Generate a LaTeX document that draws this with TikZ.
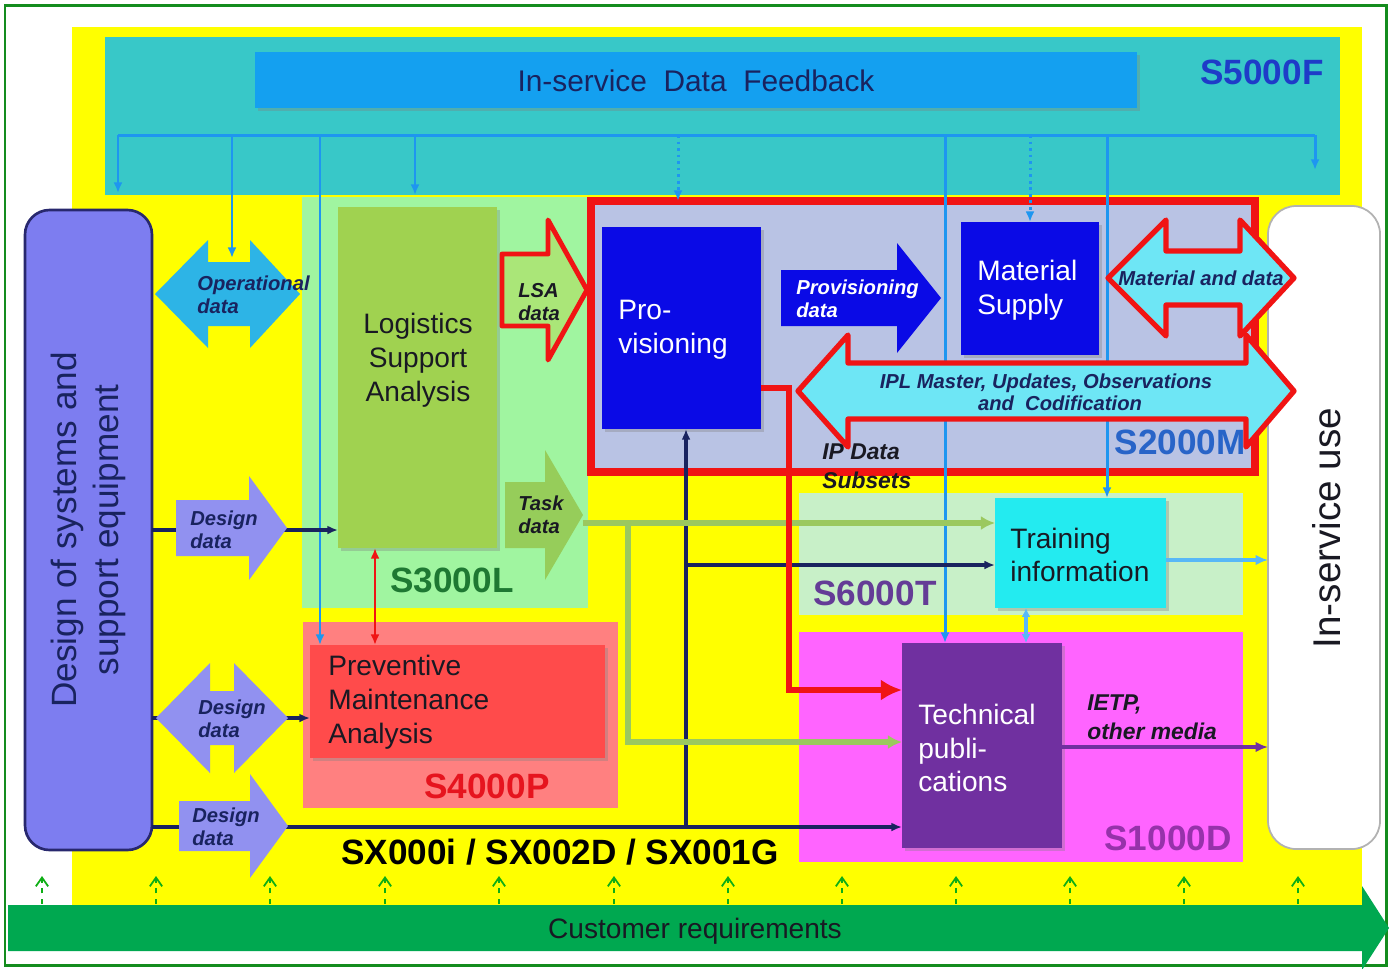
\documentclass[tikz,border=0pt]{standalone}
\usepackage{fontspec}
\setmainfont{Liberation Sans}
\usetikzlibrary{arrows.meta,fit,shadows}
\definecolor{cFrame}{RGB}{20,140,30}
\definecolor{cYellow}{RGB}{255,255,0}
\definecolor{cTeal}{RGB}{56,200,200}
\definecolor{cFeed}{RGB}{20,160,240}
\definecolor{cNavy}{RGB}{25,35,95}
\definecolor{cS5}{RGB}{30,60,200}
\definecolor{cPurpleBox}{RGB}{125,125,240}
\definecolor{cPurpleEdge}{RGB}{40,40,110}
\definecolor{cOper}{RGB}{45,180,230}
\definecolor{cDesign}{RGB}{145,145,240}
\definecolor{cSthree}{RGB}{160,245,160}
\definecolor{cSthreetxt}{RGB}{30,120,50}
\definecolor{cLSA}{RGB}{160,210,80}
\definecolor{cTask}{RGB}{150,205,90}
\definecolor{cLSAarr}{RGB}{170,230,120}
\definecolor{cStwo}{RGB}{185,195,228}
\definecolor{cRed}{RGB}{240,20,20}
\definecolor{cBlue}{RGB}{10,10,230}
\definecolor{cCyanArr}{RGB}{110,230,245}
\definecolor{cStwotxt}{RGB}{40,100,200}
\definecolor{cSsix}{RGB}{200,240,200}
\definecolor{cSsixtxt}{RGB}{100,60,150}
\definecolor{cTrain}{RGB}{35,235,240}
\definecolor{cSone}{RGB}{255,100,255}
\definecolor{cSonetxt}{RGB}{150,50,170}
\definecolor{cTech}{RGB}{112,48,160}
\definecolor{cSfour}{RGB}{255,128,128}
\definecolor{cSfourtxt}{RGB}{230,20,30}
\definecolor{cPMA}{RGB}{255,75,75}
\definecolor{cGreenBar}{RGB}{0,168,80}
\definecolor{cGreenLine}{RGB}{155,200,95}
\definecolor{cFeedLine}{RGB}{30,150,240}
\definecolor{cTxt}{RGB}{25,25,35}
\newcommand{\fBig}{\fontsize{20}{24}\selectfont}
\newcommand{\fBox}{\fontsize{16}{19.2}\selectfont}
\newcommand{\fLbl}{\fontsize{11.5}{13}\selectfont\bfseries\itshape}
\newcommand{\fMid}{\fontsize{13}{16.4}\selectfont\bfseries\itshape}
% right block arrow: style, tail x, head base x, tip x, centre y, shaft half, head half
\newcommand{\blockR}[7]{\path[#1] ({#2},{#5-#6}) -- ({#3},{#5-#6}) -- ({#3},{#5-#7}) -- ({#4},{#5}) -- ({#3},{#5+#7}) -- ({#3},{#5+#6}) -- ({#2},{#5+#6}) -- cycle;}
% double block arrow: style, left tip, left base, right base, right tip, centre y, shaft half, head half
\newcommand{\blockD}[8]{\path[#1] ({#2},{#6}) -- ({#3},{#6-#8}) -- ({#3},{#6-#7}) -- ({#4},{#6-#7}) -- ({#4},{#6-#8}) -- ({#5},{#6}) -- ({#4},{#6+#8}) -- ({#4},{#6+#7}) -- ({#3},{#6+#7}) -- ({#3},{#6+#8}) -- cycle;}
\tikzset{
  region/.style={inner sep=0pt, outer sep=0pt},
  boxnode/.style={inner sep=0pt, outer sep=0pt, drop shadow={opacity=0.35, shadow xshift=1.5pt, shadow yshift=-1.5pt}},
  spec/.style={font=\fBig\bfseries, inner sep=0pt},
  boxtxt/.style={font=\fBox, inner sep=0pt, align=left, anchor=west},
  lbl/.style={font=\fLbl, inner sep=0pt, align=left, anchor=west, text=cNavy},
  fbline/.style={draw=cFeedLine, line width=1.7pt},
  fbtip/.style={-{Latex[length=6pt,width=5pt]}},
  navyline/.style={draw=cNavy, line width=1.8pt, -{Latex[length=6pt,width=5pt]}},
  greenline/.style={draw=cGreenLine, line width=3.8pt},
}
\begin{document}
\begin{tikzpicture}[x=0.02cm, y=-0.02cm]
\useasboundingbox (0,0) rectangle (1389,968);
\fill[white] (0,0) rectangle (1389,968);
\draw[cFrame, line width=1.7pt] (5,5) rectangle (1386,965);
\fill[cYellow] (72,27) rectangle (1362,905);

% S5000F
\node[region, fit={(105,37) (1340,195)}, fill=cTeal] (sfive) {};
\node[boxnode, fit={(255,52) (1137,108)}, fill=cFeed] (feedback) {};
\node[font=\fontsize{17}{20}\selectfont, text=cNavy, inner sep=0pt] (feedbacktxt) at (696,81) {In-service\ \ Data\ \ Feedback};
\node[spec, text=cS5] (sfivetxt) at (1262,72) {S5000F};

% regions
\node[region, fit={(302,197) (588,608)}, fill=cSthree] (sthree) {};
\node[region, fit={(303,622) (618,808)}, fill=cSfour] (sfour) {};
\node[region, fit={(591,201) (1255,472)}, fill=cStwo, draw=cRed, line width=5pt] (stwo) {};
\node[region, fit={(799,493) (1243,615)}, fill=cSsix] (ssix) {};
\node[region, fit={(799,632) (1243,862)}, fill=cSone] (sone) {};

% side boxes
\node[region, fit={(25,210) (152,850)}, rounded corners=14pt, fill=cPurpleBox, draw=cPurpleEdge, line width=1.5pt] (design) {};
\node[rotate=90, align=center, font=\fBig, text=cNavy, inner sep=0pt] (designtxt) at (design.center) {Design of systems and\\support equipment};
\node[region, fit={(1268,206) (1380,849)}, rounded corners=16pt, fill=white, draw=black!30, line width=1pt] (inservice) {};
\node[rotate=90, font=\fontsize{22}{26}\selectfont, text=cTxt, inner sep=0pt] (inservicetxt) at (1327,528) {In-service use};

% main boxes
\node[boxnode, fit={(338,207) (497,548)}, fill=cLSA] (lsa) {};
\node[boxnode, fit={(310,645) (605,758)}, fill=cPMA] (pma) {};
\node[boxnode, fit={(602,227) (761,429)}, fill=cBlue] (prov) {};
\node[boxnode, fit={(961,222) (1099,355)}, fill=cBlue] (ms) {};
\node[boxnode, fit={(995,498) (1166,608)}, fill=cTrain] (train) {};
\node[boxnode, fit={(902,643) (1062,848)}, fill=cTech] (tech) {};

% coordinates for connectors
\coordinate (fbL) at (118,135);
\coordinate (fbR) at (1315,135);
\coordinate (fbA) at (232,135);
\coordinate (fbB) at (320,135);
\coordinate (fbC) at (415,135);
\coordinate (fbD) at (678,135);
\coordinate (fbE) at (945,135);
\coordinate (fbF) at (1030,135);
\coordinate (fbG) at (1107,135);
\coordinate (operTop) at (232,258);
\coordinate (y718) at (0,718);
\coordinate (y827) at (0,827);
\coordinate (nav) at (686,827);
\coordinate (y565) at (0,565);
\coordinate (taskTip) at (583,523);
\coordinate (gTurn) at (628,523);
\coordinate (gDown) at (628,742);
\coordinate (rStart) at (0,388);
\coordinate (rTurn) at (789,690);
\coordinate (x375) at (375,0);
\coordinate (y560) at (0,560);
\coordinate (x1026) at (1026,0);
\coordinate (y747) at (0,747);

% feedback lines
\draw[fbline] (fbL) -- (fbR);
\draw[fbline, fbtip] (fbL) -- ++(0,58);
\draw[fbline, fbtip] (fbA) -- (operTop);
\draw[fbline, fbtip] (fbB) -- (fbB |- pma.north);
\draw[fbline, fbtip] (fbC) -- ++(0,60);
\draw[fbline, fbtip, dotted] (fbD) -- ++(0,66);
\draw[fbline, fbtip] (fbE) -- (fbE |- tech.north);
\draw[fbline, fbtip, dotted] (fbF) -- (fbF |- ms.north);
\draw[fbline, fbtip] (fbG) -- (fbG |- train.north);
\draw[fbline, fbtip] (fbR) -- ++(0,35);

% design data lines
\draw[navyline] (design.east) -- (design.east -| lsa.west);
\draw[navyline] (design.east |- y718) -- (pma.west |- y718);
\draw[navyline, line width=2.6pt] (design.east |- y827) -- (tech.west |- y827);
\draw[navyline] (nav) -- (nav |- prov.south);
\draw[navyline] (nav |- y565) -- (train.west |- y565);

% green task data lines
\draw[greenline, -{Latex[length=8pt,width=8pt]}] (taskTip) -- (train.west |- taskTip);
\draw[greenline, -{Latex[length=8pt,width=8pt]}] (gTurn) -- (gDown) -- (tech.west |- gDown);

% red lines
\draw[cRed, line width=1.3pt, {Latex[length=6pt,width=5pt]}-{Latex[length=6pt,width=5pt]}] (x375 |- lsa.south) -- (x375 |- pma.north);
\draw[cRed, line width=3.4pt, -{Latex[length=12pt,width=12pt]}] (prov.east |- rStart) -| (rTurn) -- (tech.west |- rTurn);

% output lines
\draw[draw=cCyanArr!80!blue, line width=2.4pt, -{Latex[length=7pt,width=6pt]}] (train.east |- y560) -- (inservice.west |- y560);
\draw[draw=cCyanArr!80!blue, line width=2pt, {Latex[length=5pt,width=5pt]}-{Latex[length=5pt,width=5pt]}] (x1026 |- train.south) -- (x1026 |- tech.north);
\draw[draw=cTech, line width=2pt, -{Latex[length=7pt,width=6pt]}] (tech.east |- y747) -- (inservice.west |- y747);

% block arrows
\blockD{fill=cOper}{155}{208}{250}{300}{294}{32}{54}
\blockD{fill=cDesign}{156}{210}{234}{288}{718}{27}{55}
\blockR{fill=cDesign}{176}{249}{287}{528}{28}{52}
\blockR{fill=cDesign}{179}{250}{288}{826}{25}{52}
\blockR{fill=cLSAarr, draw=cRed, line width=2.8pt, line join=round}{502}{548}{587}{290}{36}{70}
\blockR{fill=cTask}{505}{545}{583}{515}{33}{65}
\blockR{fill=cBlue}{781}{897}{941}{298}{28}{55}
\blockD{fill=cCyanArr, draw=cRed, line width=3pt, line join=round}{1108}{1166}{1240}{1294}{278}{27}{58}
\blockD{fill=cCyanArr, draw=cRed, line width=3pt, line join=round}{798}{848}{1246}{1294}{391}{28}{56}

% customer requirements
\fill[cGreenBar] (8,905) -- (1362,905) -- (1362,886) -- (1389,928) -- (1362,970) -- (1362,951) -- (8,951) -- cycle;
\node[font=\fBox, text=cTxt, inner sep=0pt] (custtxt) at (695,931) {Customer requirements};
\foreach \gx in {42,156,270,385,499,614,728,842,956,1070,1184,1298}
  \draw[cFrame!70!green, line width=1pt, dashed, -{Straight Barb[length=5pt,width=7pt]}] (\gx,904) -- (\gx,876);

% box texts
\node[font=\fBox, align=center, text=cTxt, inner sep=0pt] (lsatxt) at (418,360) {Logistics\\Support\\Analysis};
\node[boxtxt, text=cTxt] (pmatxt) at (328,702) {Preventive\\Maintenance\\Analysis};
\node[boxtxt, text=white] (provtxt) at (618,330) {Pro-\\visioning};
\node[boxtxt, text=white] (mstxt) at (977,290) {Material\\Supply};
\node[boxtxt, text=cTxt] (traintxt) at (1010,555) {Training\\information};
\node[boxtxt, text=white] (techtxt) at (918,748) {Technical\\publi-\\cations};

% arrow labels
\node[lbl] (opertxt) at (197,294.5) {Operational\\data};
\node[lbl] (des1txt) at (190,529.5) {Design\\data};
\node[lbl] (des2txt) at (198,719) {Design\\data};
\node[lbl] (des3txt) at (192,827) {Design\\data};
\node[lbl, text=cTxt] (lsadtxt) at (518,302) {LSA\\data};
\node[lbl, text=cTxt] (tasktxt) at (518,515) {Task\\data};
\node[lbl, text=white] (provdtxt) at (796,298.5) {Provisioning\\data};
\node[font=\fLbl, text=cNavy, inner sep=0pt] (matdtxt) at (1201,278) {Material and data};
\node[font=\fLbl, text=cNavy, inner sep=0pt] (ipltxta) at (1046,383) {IPL Master, Updates, Observations};
\node[font=\fLbl, text=cNavy, inner sep=0pt] (ipltxtb) at (1060,403) {and\ \ Codification};
\node[font=\fMid, text=cTxt, inner sep=0pt, align=left, anchor=west] (ipdtxt) at (822,466.5) {IP Data\\Subsets};
\node[font=\fMid, text=cTxt, inner sep=0pt, align=left, anchor=west] (ietptxt) at (1087,717.5) {IETP,\\other media};

% spec labels
\node[spec, text=cSthreetxt] (sthreetxt) at (452,580) {S3000L};
\node[spec, text=cStwotxt] (stwotxt) at (1180,442) {S2000M};
\node[spec, text=cSsixtxt] (ssixtxt) at (875,593) {S6000T};
\node[spec, text=cSonetxt] (sonetxt) at (1168,838) {S1000D};
\node[spec, text=cSfourtxt] (sfourtxt) at (487,786) {S4000P};
\node[spec, text=black] (sxtxt) at (560,852) {SX000i / SX002D / SX001G};
\end{tikzpicture}
\end{document}
